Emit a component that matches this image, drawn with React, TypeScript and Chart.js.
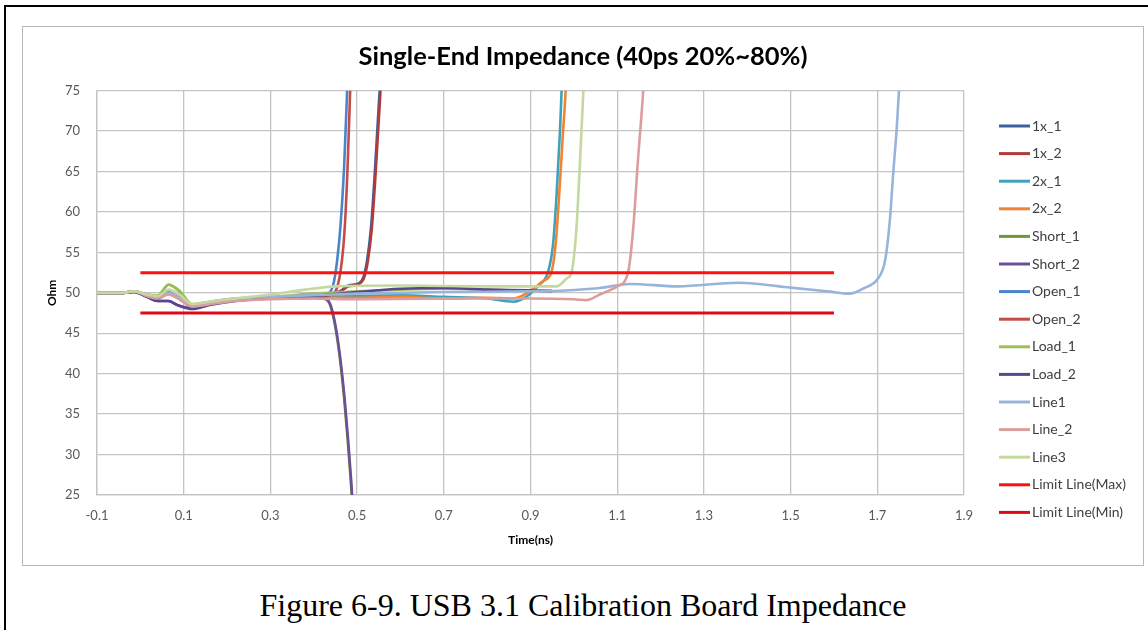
import React, { useEffect, useRef } from "react";
import { Chart, registerables } from "chart.js";

Chart.register(...registerables);

// ---------- data ----------
const xTickValues = [-0.1, 0.1, 0.3, 0.5, 0.7, 0.9, 1.1, 1.3, 1.5, 1.7, 1.9];

const x1x1 = [-0.1, -0.04, -0.015, 0.015, 0.04, 0.065, 0.09, 0.12, 0.16, 0.22, 0.3, 0.4, 0.46, 0.48, 0.505, 0.515, 0.523, 0.532, 0.541, 0.552, 0.558];
const y1x1 = [50, 50, 50.2, 49.7, 49.4, 50.0, 49.4, 48.4, 48.8, 49.2, 49.4, 49.5, 50.2, 50.9, 51.2, 52.0, 54.0, 58.0, 65.0, 75.0, 82.0];

const x1x2 = [-0.1, -0.04, -0.015, 0.015, 0.04, 0.065, 0.09, 0.12, 0.16, 0.22, 0.3, 0.4, 0.46, 0.48, 0.505, 0.517, 0.525, 0.534, 0.543, 0.554, 0.56];
const y1x2 = [50, 50, 50.2, 49.6, 49.3, 49.9, 49.3, 48.3, 48.7, 49.1, 49.3, 49.4, 50.1, 50.8, 51.1, 52.0, 54.0, 58.0, 65.0, 75.0, 82.0];

const x2x1 = [-0.1, -0.04, -0.015, 0.015, 0.04, 0.065, 0.09, 0.12, 0.16, 0.22, 0.3, 0.4, 0.5, 0.6, 0.7, 0.8, 0.86, 0.89, 0.92, 0.94, 0.952, 0.96, 0.968, 0.974, 0.978];
const y2x1 = [50, 50, 50.2, 49.7, 49.5, 50.1, 49.4, 48.4, 48.8, 49.2, 49.4, 49.5, 49.6, 49.7, 49.5, 49.3, 48.9, 49.5, 51.0, 52.5, 56.0, 62.0, 70.0, 78.0, 84.0];

const x2x2 = [-0.1, -0.04, -0.015, 0.015, 0.04, 0.065, 0.09, 0.12, 0.16, 0.22, 0.3, 0.4, 0.5, 0.6, 0.7, 0.8, 0.86, 0.89, 0.93, 0.948, 0.958, 0.966, 0.974, 0.982, 0.986];
const y2x2 = [50, 50, 50.2, 49.6, 49.4, 50.0, 49.3, 48.3, 48.7, 49.1, 49.3, 49.4, 49.4, 49.5, 49.3, 49.4, 49.3, 49.9, 51.5, 52.5, 56.0, 62.0, 69.0, 76.0, 82.0];

const xShort1 = [-0.1, -0.04, -0.015, 0.015, 0.04, 0.065, 0.09, 0.12, 0.16, 0.22, 0.3, 0.38, 0.422, 0.437, 0.449, 0.46, 0.47, 0.478, 0.485, 0.49];
const yShort1 = [50, 50, 50.2, 49.8, 49.6, 51.0, 50.2, 48.5, 48.8, 49.2, 49.4, 49.5, 49.3, 48.6, 46.0, 42.0, 37.0, 32.0, 27.0, 23.0];

const xShort2 = [-0.1, -0.04, -0.015, 0.015, 0.04, 0.065, 0.085, 0.12, 0.16, 0.22, 0.3, 0.38, 0.423, 0.438, 0.45, 0.461, 0.471, 0.479, 0.486, 0.491];
const yShort2 = [50, 50, 50.1, 49.5, 49.0, 49.0, 48.5, 48.1, 48.6, 49.1, 49.3, 49.4, 49.3, 48.6, 46.0, 42.0, 37.0, 32.0, 27.0, 23.0];

const xOpen1 = [-0.1, -0.04, -0.015, 0.015, 0.04, 0.065, 0.09, 0.12, 0.16, 0.22, 0.3, 0.4, 0.43, 0.445, 0.454, 0.462, 0.47, 0.477, 0.483];
const yOpen1 = [50, 50, 50.2, 49.7, 49.4, 50.1, 49.4, 48.4, 48.8, 49.2, 49.4, 49.5, 49.8, 51.0, 54.0, 58.5, 65.5, 75.0, 84.0];

const xOpen2 = [-0.1, -0.04, -0.015, 0.015, 0.04, 0.065, 0.09, 0.12, 0.16, 0.22, 0.3, 0.4, 0.435, 0.452, 0.465, 0.472, 0.478, 0.484, 0.49];
const yOpen2 = [50, 50, 50.2, 49.6, 49.3, 50.0, 49.3, 48.3, 48.7, 49.1, 49.3, 49.4, 49.7, 50.4, 54.0, 58.5, 65.5, 75.0, 84.0];

const xLoad1 = [-0.1, -0.04, -0.015, 0.015, 0.04, 0.065, 0.09, 0.12, 0.16, 0.22, 0.3, 0.4, 0.5, 0.6, 0.7, 0.8, 0.9, 0.95];
const yLoad1 = [50, 50, 50.2, 49.8, 49.7, 51.0, 50.3, 48.6, 48.9, 49.3, 49.5, 49.9, 50.2, 50.4, 50.5, 50.4, 50.3, 50.3];

const xLoad2 = [-0.1, -0.04, -0.015, 0.015, 0.04, 0.065, 0.085, 0.12, 0.16, 0.22, 0.3, 0.4, 0.5, 0.6, 0.7, 0.8, 0.9, 0.95];
const yLoad2 = [50, 50, 50.1, 49.5, 49.0, 49.0, 48.5, 48.0, 48.5, 49.0, 49.3, 49.6, 50.1, 50.5, 50.6, 50.4, 50.3, 50.2];

const xLine1 = [-0.1, -0.04, -0.015, 0.015, 0.04, 0.065, 0.09, 0.12, 0.16, 0.22, 0.3, 0.4, 0.5, 0.7, 0.9, 0.98, 1.06, 1.13, 1.24, 1.38, 1.5, 1.59, 1.635, 1.67, 1.702, 1.718, 1.729, 1.737, 1.745, 1.75, 1.755];
const yLine1 = [50, 50, 50.2, 49.7, 49.4, 50.0, 49.4, 48.5, 48.9, 49.3, 49.5, 49.7, 49.9, 50.1, 50.2, 50.3, 50.6, 51.1, 50.8, 51.25, 50.65, 50.15, 49.9, 50.6, 51.8, 54.0, 59.0, 65.0, 70.5, 75.0, 80.0];

const xLine2 = [-0.1, -0.04, -0.015, 0.015, 0.04, 0.065, 0.09, 0.12, 0.16, 0.22, 0.3, 0.4, 0.5, 0.7, 0.9, 1.0, 1.03, 1.06, 1.1, 1.125, 1.137, 1.148, 1.16, 1.165];
const yLine2 = [50, 50, 50.2, 49.6, 49.3, 49.8, 49.2, 48.3, 48.6, 49.0, 49.2, 49.3, 49.2, 49.3, 49.3, 49.2, 49.1, 49.8, 50.8, 52.5, 58.0, 66.5, 75.0, 80.0];

const xLine3 = [-0.1, -0.04, -0.015, 0.015, 0.04, 0.065, 0.09, 0.12, 0.16, 0.22, 0.3, 0.38, 0.45, 0.6, 0.8, 0.96, 0.984, 0.995, 1.006, 1.014, 1.022, 1.027];
const yLine3 = [50, 50, 50.2, 49.8, 49.6, 50.4, 49.8, 48.6, 48.9, 49.3, 49.8, 50.4, 50.8, 50.9, 50.8, 50.8, 51.8, 52.6, 58.0, 66.0, 75.0, 80.0];

const xLimitMax = [0, 1.6];
const yLimitMax = [52.5, 52.5];
const xLimitMin = [0, 1.6];
const yLimitMin = [47.5, 47.5];

const seriesNames = ["1x_1", "1x_2", "2x_1", "2x_2", "Short_1", "Short_2", "Open_1", "Open_2", "Load_1", "Load_2", "Line1", "Line_2", "Line3", "Limit Line(Max)", "Limit Line(Min)"];
const seriesX = [x1x1, x1x2, x2x1, x2x2, xShort1, xShort2, xOpen1, xOpen2, xLoad1, xLoad2, xLine1, xLine2, xLine3, xLimitMax, xLimitMin];
const seriesY = [y1x1, y1x2, y2x1, y2x2, yShort1, yShort2, yOpen1, yOpen2, yLoad1, yLoad2, yLine1, yLine2, yLine3, yLimitMax, yLimitMin];
const seriesColors = ["#3a62a0", "#b03c3a", "#3fa2ba", "#ef8433", "#6e9a35", "#6b4f98", "#4a84cc", "#c24c49", "#9cc057", "#5a4690", "#98b4da", "#dc9e9c", "#c4d8a0", "#ff1010", "#e00a14"];
const seriesWidths = [2.6, 2.6, 2.6, 2.6, 2.6, 2.6, 2.6, 2.6, 2.6, 2.6, 2.6, 2.6, 2.6, 3, 3];

const FONT = "Lato, 'Noto Sans', sans-serif";

const lineLegend = {
  id: "lineLegend",
  afterDraw(chart: any) {
    const { ctx, chartArea } = chart;
    const x0 = chartArea.right + 35;
    ctx.save();
    ctx.font = `14px ${FONT}`;
    ctx.textBaseline = "middle";
    ctx.textAlign = "left";
    chart.data.datasets.forEach((ds: any, i: number) => {
      const y = chartArea.top + 35.3 + i * 27.6;
      ctx.strokeStyle = ds.borderColor;
      ctx.lineWidth = 3;
      ctx.beginPath();
      ctx.moveTo(x0, y);
      ctx.lineTo(x0 + 31, y);
      ctx.stroke();
      ctx.fillStyle = "#404040";
      ctx.fillText(ds.label, x0 + 33, y);
    });
    ctx.restore();
  },
};

export default function App() {
  const canvasRef = useRef<HTMLCanvasElement | null>(null);

  useEffect(() => {
    if (!canvasRef.current) return;
    const n = seriesNames.length;
    const datasets = seriesNames.map((name, i) => ({
      label: name,
      data: seriesX[i].map((x, j) => ({ x, y: seriesY[i][j] })),
      borderColor: seriesColors[i],
      backgroundColor: seriesColors[i],
      borderWidth: seriesWidths[i],
      pointRadius: 0,
      fill: false,
      cubicInterpolationMode: "monotone" as const,
      order: n - i,
      yAxisID: "y",
    }));
    const chart = new Chart(canvasRef.current, {
      type: "line",
      data: { datasets },
      plugins: [lineLegend],
      options: {
        animation: false,
        responsive: false,
        maintainAspectRatio: false,
        layout: { padding: 0 },
        plugins: {
          legend: { display: false },
          tooltip: { enabled: false },
          title: {
            display: true,
            text: "Single-End Impedance (40ps 20%~80%)",
            color: "#000000",
            font: { family: FONT, size: 25.5, weight: "bold" },
            padding: { top: 15.7, bottom: 18.4 },
          },
        },
        scales: {
          x: {
            type: "linear",
            min: -0.1,
            max: 1.9,
            afterBuildTicks: (scale: any) => {
              scale.ticks = xTickValues.map((v) => ({ value: v }));
            },
            afterFit: (scale: any) => {
              scale.height = 71;
            },
            ticks: {
              color: "#595959",
              font: { family: FONT, size: 13 },
              padding: 13,
              maxRotation: 0,
              autoSkip: false,
              callback: (v: any) => Number(v).toFixed(1),
            },
            grid: { color: "#c4c4c4", lineWidth: 1.3, drawTicks: false },
            border: { color: "#c4c4c4", width: 1.3 },
            title: {
              display: true,
              text: "Time(ns)",
              color: "#000000",
              font: { family: FONT, size: 12, weight: "bold" },
              padding: { top: 0, bottom: 18.8 },
            },
          },
          y: {
            type: "linear",
            position: "left",
            min: 25,
            max: 75,
            afterFit: (scale: any) => {
              scale.width = 75;
            },
            ticks: {
              stepSize: 5,
              color: "#595959",
              font: { family: FONT, size: 13 },
              padding: 17,
            },
            grid: { color: "#c4c4c4", lineWidth: 1.3, drawTicks: false },
            border: { color: "#c4c4c4", width: 1.3 },
            title: {
              display: true,
              text: "Ohm",
              color: "#000000",
              font: { family: FONT, size: 12, weight: "bold" },
              padding: { top: 22.8, bottom: 0 },
            },
          },
          legendSpace: {
            type: "linear",
            position: "right",
            afterFit: (scale: any) => {
              scale.width = 180;
            },
            ticks: { display: false },
            grid: { display: false, drawTicks: false },
            border: { display: false },
          },
        },
      },
    });
    return () => chart.destroy();
  }, []);

  return (
    <div style={{ position: "fixed", left: 0, top: 0, width: 1148, height: 630, background: "#ffffff", overflow: "hidden" }}>
      <div style={{ position: "absolute", left: 4, top: 5, width: 1144, height: 2, background: "#000" }} />
      <div style={{ position: "absolute", left: 4, top: 5, width: 2, height: 625, background: "#000" }} />
      <div
        style={{
          position: "absolute",
          left: 22,
          top: 26,
          width: 1122,
          height: 540,
          boxSizing: "border-box",
          border: "1.5px solid #b8b8b8",
        }}
      />
      <canvas ref={canvasRef} width={1122} height={540} style={{ position: "absolute", left: 22, top: 26, width: 1122, height: 540 }} />
      <div
        style={{
          position: "absolute",
          left: 0,
          top: 587,
          width: 1166,
          textAlign: "center",
          fontFamily: "'Liberation Serif', 'Times New Roman', serif",
          fontSize: 32,
          lineHeight: "36px",
          color: "#000",
          whiteSpace: "nowrap",
        }}
      >
        Figure 6-9. USB 3.1 Calibration Board Impedance
      </div>
    </div>
  );
}
